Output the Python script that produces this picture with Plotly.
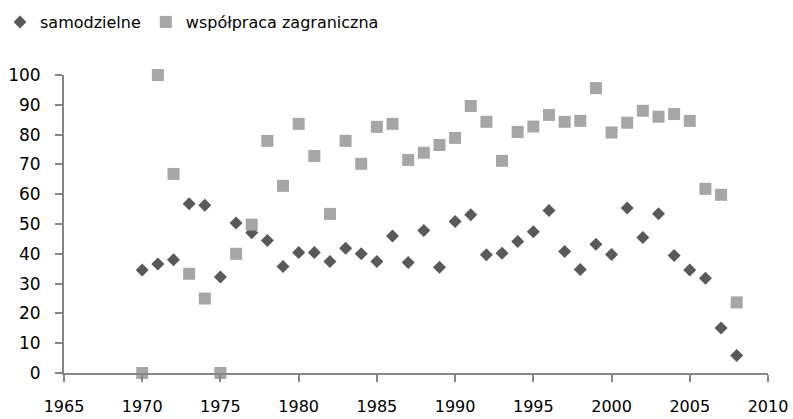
import plotly.graph_objects as go

years = list(range(1970, 2009))
samodzielne = [34.6, 36.6, 38.0, 56.8, 56.3, 32.2, 50.3, 47.1, 44.5, 35.7,
               40.4, 40.4, 37.4, 41.9, 40.0, 37.4, 46.0, 37.1, 47.8, 35.5,
               50.8, 53.1, 39.7, 40.2, 44.1, 47.4, 54.5, 40.8, 34.7, 43.2,
               39.8, 55.4, 45.5, 53.4, 39.4, 34.6, 31.8, 15.1, 5.9]
wspolpraca = [0.0, 100.0, 66.8, 33.3, 25.0, 0.0, 40.0, 49.8, 77.9, 62.8,
              83.6, 72.8, 53.4, 77.9, 70.2, 82.6, 83.6, 71.5, 73.9, 76.5,
              78.9, 89.6, 84.3, 71.2, 80.9, 82.7, 86.6, 84.3, 84.6, 95.6,
              80.7, 84.0, 88.0, 86.0, 86.9, 84.6, 61.8, 59.8, 23.7]

x_ticks = [1965, 1970, 1975, 1980, 1985, 1990, 1995, 2000, 2005, 2010]
y_ticks = [0, 10, 20, 30, 40, 50, 60, 70, 80, 90, 100]

font_family = "'DejaVu Sans', sans-serif"

fig = go.Figure()
fig.add_trace(go.Scatter(
    x=years, y=samodzielne, mode="markers", name="samodzielne",
    marker=dict(symbol="diamond", size=10, color="#595959", line=dict(width=0)),
    cliponaxis=False,
))
fig.add_trace(go.Scatter(
    x=years, y=wspolpraca, mode="markers", name="współpraca zagraniczna",
    marker=dict(symbol="square", size=12, color="#A6A6A6", line=dict(width=0)),
    cliponaxis=False,
))

fig.update_layout(
    width=793, height=419,
    margin=dict(l=64, r=25, t=75, b=46, autoexpand=False),
    paper_bgcolor="white", plot_bgcolor="white",
    font=dict(family=font_family, size=17, color="#000000"),
    showlegend=True,
    legend=dict(
        orientation="h", xref="container", yref="container",
        x=-6 / 793, y=1 - 22 / 419, xanchor="left", yanchor="middle",
        font=dict(size=16), itemwidth=30, tracegroupgap=0,
        bgcolor="rgba(0,0,0,0)",
    ),
    xaxis=dict(
        range=[1965, 2010], tickmode="array", tickvals=x_ticks,
        ticktext=[str(v) for v in x_ticks],
        showgrid=False, zeroline=False, showline=True,
        linecolor="#868686", linewidth=2,
        ticks="outside", ticklen=7, tickwidth=2, tickcolor="#868686",
        ticklabelstandoff=11, automargin=False,
        tickfont=dict(size=16),
    ),
    yaxis=dict(
        range=[0, 100], tickmode="array", tickvals=y_ticks,
        ticktext=[str(v) for v in y_ticks],
        showgrid=False, zeroline=False, showline=True,
        linecolor="#868686", linewidth=2,
        ticks="outside", ticklen=7, tickwidth=2, tickcolor="#868686",
        ticklabelstandoff=11, automargin=False,
    ),
)

fig.write_html("out.html", config={"displayModeBar": False},
               post_script="document.body.style.margin='0';")
